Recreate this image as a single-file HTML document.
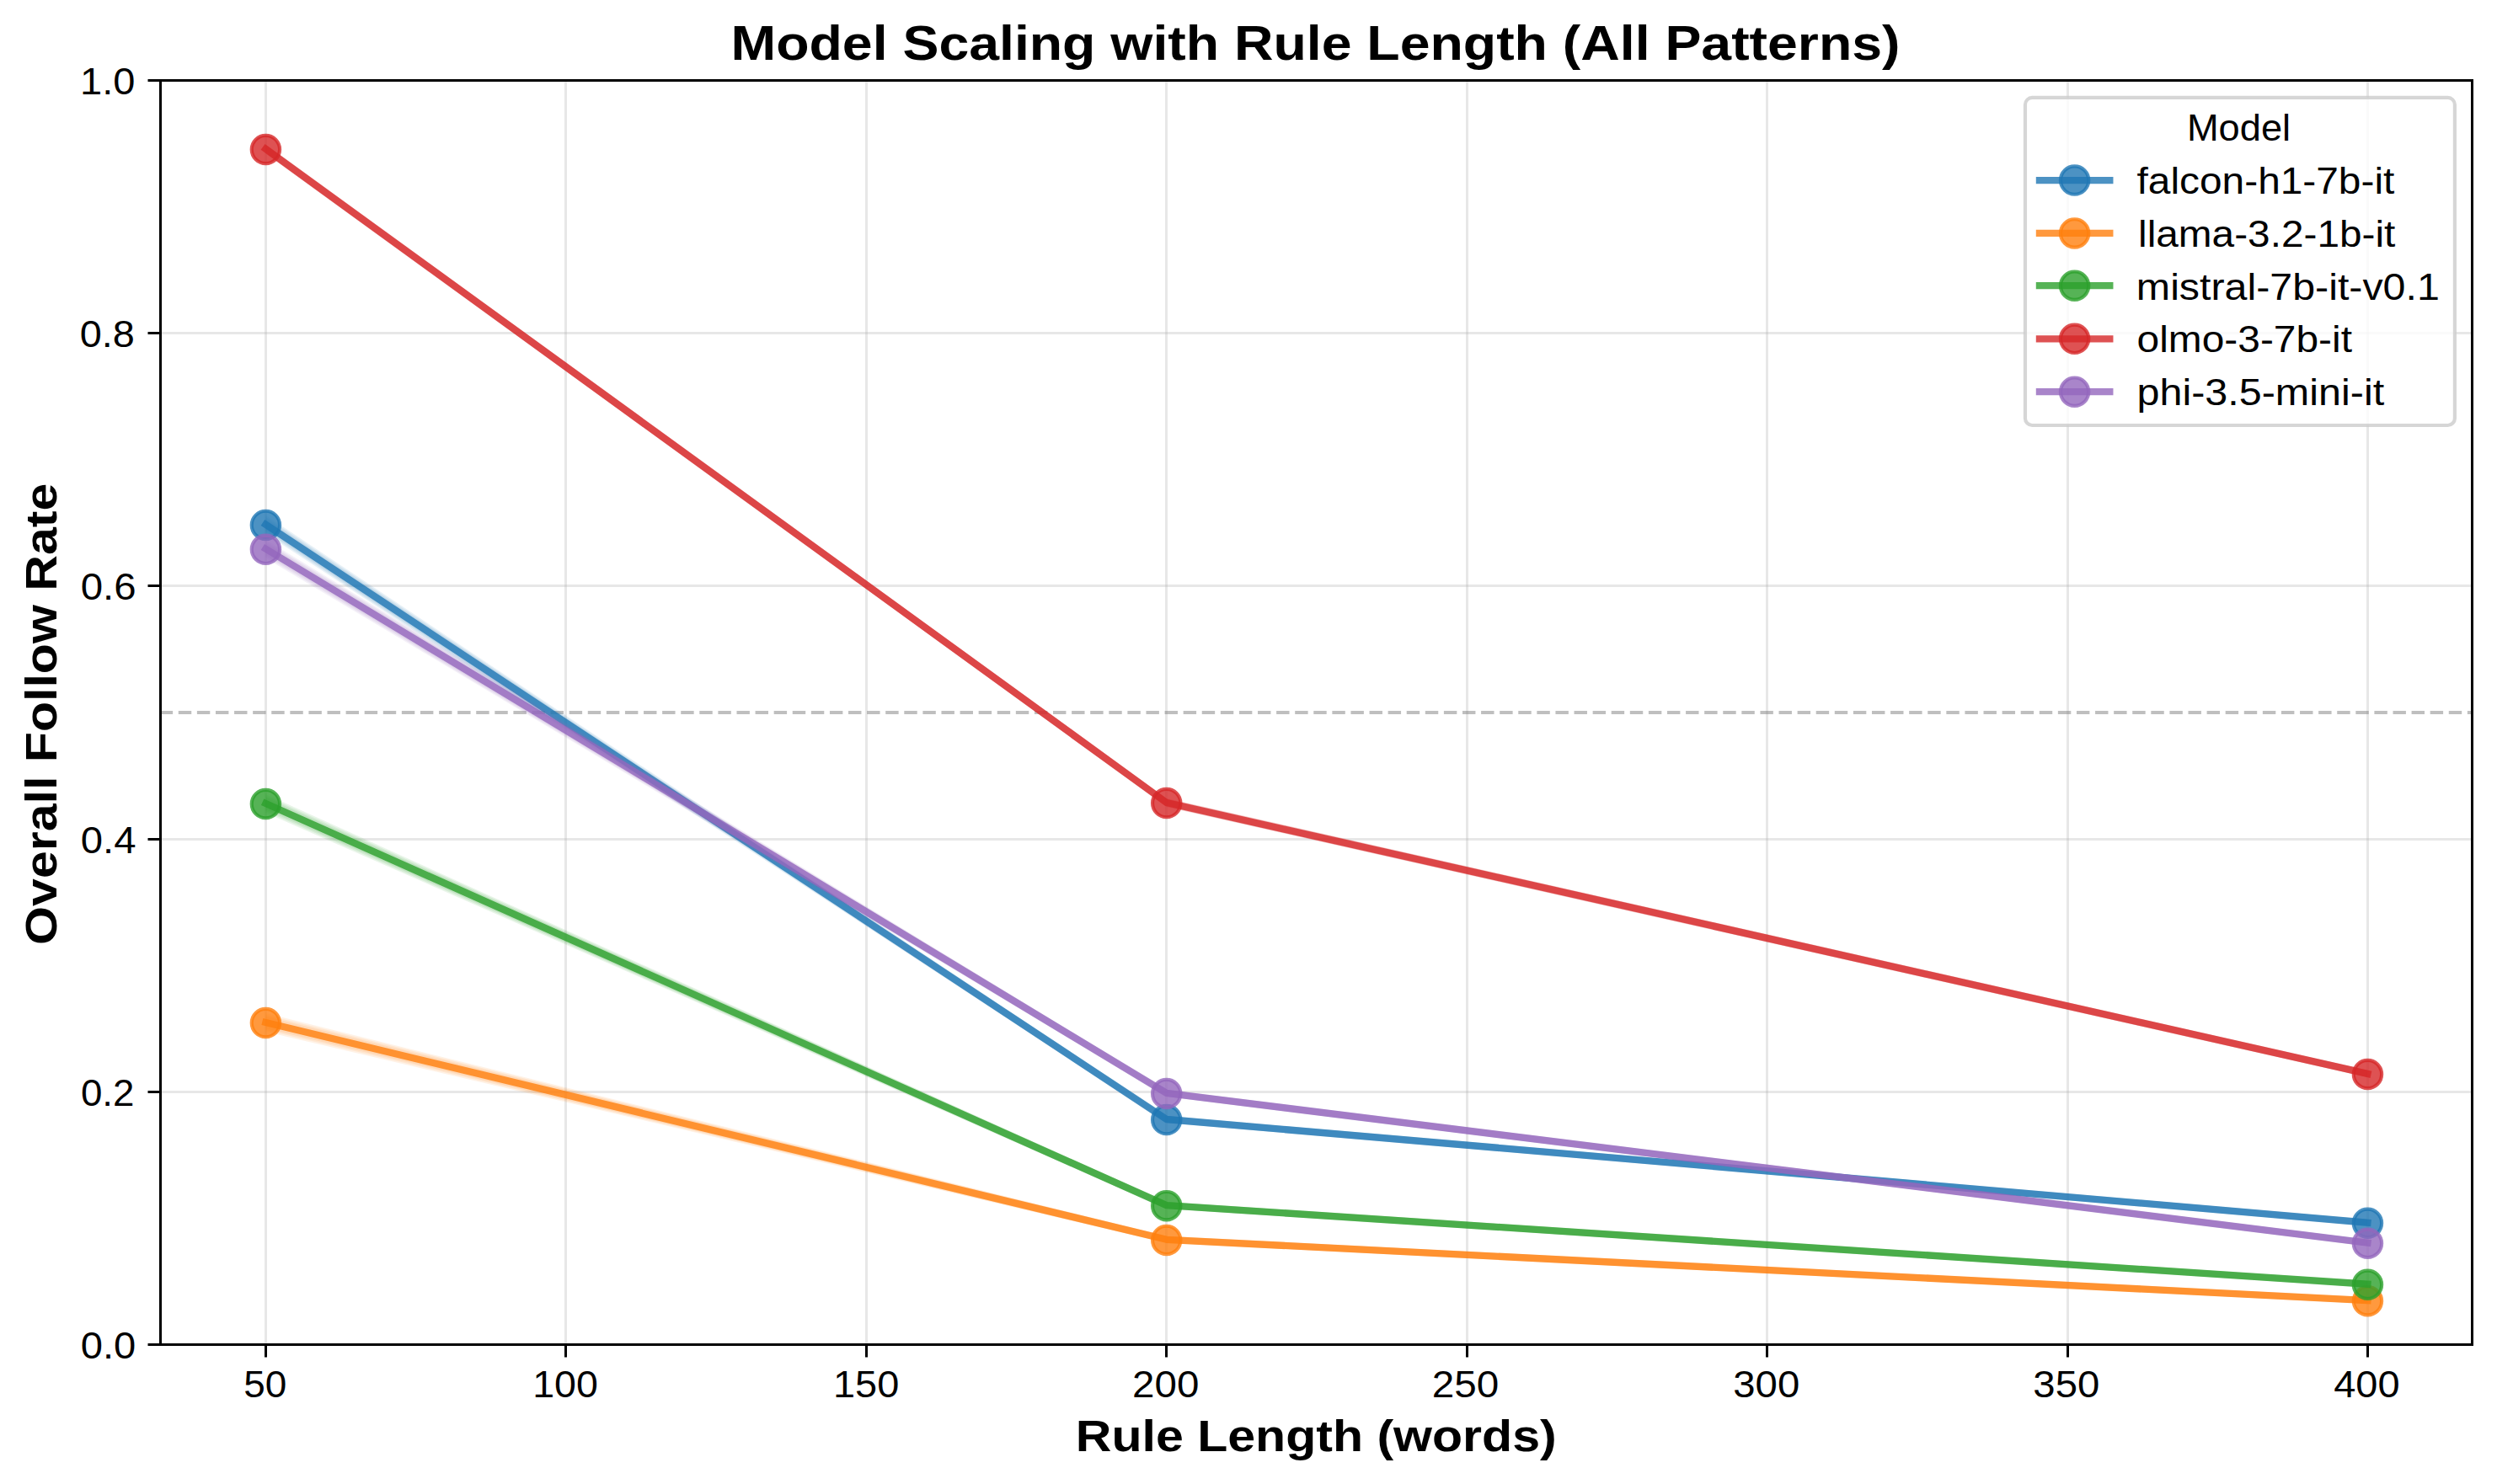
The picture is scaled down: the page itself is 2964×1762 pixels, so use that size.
<!DOCTYPE html><html><head><meta charset="utf-8"><style>html,body{margin:0;padding:0;background:#fff;}svg{display:block;} text{font-family:"Liberation Sans", sans-serif;}</style></head><body>
<svg width="2964" height="1762" viewBox="0 0 2964 1762">
<rect x="0" y="0" width="2964" height="1762" fill="#fff"/>
<line x1="315.5" y1="95.5" x2="315.5" y2="1596.5" stroke="#b0b0b0" stroke-opacity="0.3" stroke-width="3"/>
<line x1="671.5" y1="95.5" x2="671.5" y2="1596.5" stroke="#b0b0b0" stroke-opacity="0.3" stroke-width="3"/>
<line x1="1028.5" y1="95.5" x2="1028.5" y2="1596.5" stroke="#b0b0b0" stroke-opacity="0.3" stroke-width="3"/>
<line x1="1384.5" y1="95.5" x2="1384.5" y2="1596.5" stroke="#b0b0b0" stroke-opacity="0.3" stroke-width="3"/>
<line x1="1741.5" y1="95.5" x2="1741.5" y2="1596.5" stroke="#b0b0b0" stroke-opacity="0.3" stroke-width="3"/>
<line x1="2097.5" y1="95.5" x2="2097.5" y2="1596.5" stroke="#b0b0b0" stroke-opacity="0.3" stroke-width="3"/>
<line x1="2454.5" y1="95.5" x2="2454.5" y2="1596.5" stroke="#b0b0b0" stroke-opacity="0.3" stroke-width="3"/>
<line x1="2810.5" y1="95.5" x2="2810.5" y2="1596.5" stroke="#b0b0b0" stroke-opacity="0.3" stroke-width="3"/>
<line x1="190.5" y1="1596.5" x2="2934.5" y2="1596.5" stroke="#b0b0b0" stroke-opacity="0.3" stroke-width="3"/>
<line x1="190.5" y1="1296.5" x2="2934.5" y2="1296.5" stroke="#b0b0b0" stroke-opacity="0.3" stroke-width="3"/>
<line x1="190.5" y1="996.5" x2="2934.5" y2="996.5" stroke="#b0b0b0" stroke-opacity="0.3" stroke-width="3"/>
<line x1="190.5" y1="695.5" x2="2934.5" y2="695.5" stroke="#b0b0b0" stroke-opacity="0.3" stroke-width="3"/>
<line x1="190.5" y1="395.5" x2="2934.5" y2="395.5" stroke="#b0b0b0" stroke-opacity="0.3" stroke-width="3"/>
<line x1="190.5" y1="95.5" x2="2934.5" y2="95.5" stroke="#b0b0b0" stroke-opacity="0.3" stroke-width="3"/>
<line x1="190.5" y1="846" x2="2934.5" y2="846" stroke="#808080" stroke-opacity="0.5" stroke-width="4" stroke-dasharray="15.42 6.67" stroke-dashoffset="0.8"/>
<path d="M315.40,611.80 L1384.70,1324.80 L2810.45,1447.70 L2810.45,1455.70 L1384.70,1333.20 L315.40,633.80Z" fill="#1f77b4" fill-opacity="0.1"/>
<path d="M315.40,613.80 L1384.70,1325.00 L2810.45,1447.90 L2810.45,1455.50 L1384.70,1333.00 L315.40,631.80Z" fill="#1f77b4" fill-opacity="0.1"/>
<path d="M315.40,615.80 L1384.70,1325.20 L2810.45,1448.10 L2810.45,1455.30 L1384.70,1332.80 L315.40,629.80Z" fill="#1f77b4" fill-opacity="0.12"/>
<path d="M315.40,622.80 L1384.70,1329.00 L2810.45,1451.70" fill="none" stroke="#1f77b4" stroke-opacity="0.8" stroke-width="8.33" stroke-linejoin="round" stroke-linecap="square"/>
<circle cx="315.40" cy="623.40" r="16.67" fill="#1f77b4" fill-opacity="0.8" stroke="#1f77b4" stroke-opacity="0.8" stroke-width="4.17"/>
<circle cx="1384.70" cy="1329.60" r="16.67" fill="#1f77b4" fill-opacity="0.8" stroke="#1f77b4" stroke-opacity="0.8" stroke-width="4.17"/>
<circle cx="2810.45" cy="1452.30" r="16.67" fill="#1f77b4" fill-opacity="0.8" stroke="#1f77b4" stroke-opacity="0.8" stroke-width="4.17"/>
<path d="M315.40,1203.00 L1384.70,1467.60 L2810.45,1540.10 L2810.45,1548.10 L1384.70,1476.00 L315.40,1225.00Z" fill="#ff7f0e" fill-opacity="0.1"/>
<path d="M315.40,1205.00 L1384.70,1467.80 L2810.45,1540.30 L2810.45,1547.90 L1384.70,1475.80 L315.40,1223.00Z" fill="#ff7f0e" fill-opacity="0.1"/>
<path d="M315.40,1207.00 L1384.70,1468.00 L2810.45,1540.50 L2810.45,1547.70 L1384.70,1475.60 L315.40,1221.00Z" fill="#ff7f0e" fill-opacity="0.12"/>
<path d="M315.40,1214.00 L1384.70,1471.80 L2810.45,1544.10" fill="none" stroke="#ff7f0e" stroke-opacity="0.8" stroke-width="8.33" stroke-linejoin="round" stroke-linecap="square"/>
<circle cx="315.40" cy="1214.60" r="16.67" fill="#ff7f0e" fill-opacity="0.8" stroke="#ff7f0e" stroke-opacity="0.8" stroke-width="4.17"/>
<circle cx="1384.70" cy="1472.40" r="16.67" fill="#ff7f0e" fill-opacity="0.8" stroke="#ff7f0e" stroke-opacity="0.8" stroke-width="4.17"/>
<circle cx="2810.45" cy="1544.70" r="16.67" fill="#ff7f0e" fill-opacity="0.8" stroke="#ff7f0e" stroke-opacity="0.8" stroke-width="4.17"/>
<path d="M315.40,943.00 L1384.70,1426.90 L2810.45,1520.70 L2810.45,1528.70 L1384.70,1435.30 L315.40,965.00Z" fill="#2ca02c" fill-opacity="0.1"/>
<path d="M315.40,945.00 L1384.70,1427.10 L2810.45,1520.90 L2810.45,1528.50 L1384.70,1435.10 L315.40,963.00Z" fill="#2ca02c" fill-opacity="0.1"/>
<path d="M315.40,947.00 L1384.70,1427.30 L2810.45,1521.10 L2810.45,1528.30 L1384.70,1434.90 L315.40,961.00Z" fill="#2ca02c" fill-opacity="0.12"/>
<path d="M315.40,954.00 L1384.70,1431.10 L2810.45,1524.70" fill="none" stroke="#2ca02c" stroke-opacity="0.8" stroke-width="8.33" stroke-linejoin="round" stroke-linecap="square"/>
<circle cx="315.40" cy="954.60" r="16.67" fill="#2ca02c" fill-opacity="0.8" stroke="#2ca02c" stroke-opacity="0.8" stroke-width="4.17"/>
<circle cx="1384.70" cy="1431.70" r="16.67" fill="#2ca02c" fill-opacity="0.8" stroke="#2ca02c" stroke-opacity="0.8" stroke-width="4.17"/>
<circle cx="2810.45" cy="1525.30" r="16.67" fill="#2ca02c" fill-opacity="0.8" stroke="#2ca02c" stroke-opacity="0.8" stroke-width="4.17"/>
<path d="M315.40,171.30 L1384.70,947.80 L2810.45,1270.50 L2810.45,1279.30 L1384.70,958.20 L315.40,182.50Z" fill="#d62728" fill-opacity="0.1"/>
<path d="M315.40,171.50 L1384.70,948.00 L2810.45,1270.70 L2810.45,1279.10 L1384.70,958.00 L315.40,182.30Z" fill="#d62728" fill-opacity="0.1"/>
<path d="M315.40,171.70 L1384.70,948.20 L2810.45,1270.90 L2810.45,1278.90 L1384.70,957.80 L315.40,182.10Z" fill="#d62728" fill-opacity="0.12"/>
<path d="M315.40,176.90 L1384.70,953.00 L2810.45,1274.90" fill="none" stroke="#d62728" stroke-opacity="0.8" stroke-width="8.33" stroke-linejoin="round" stroke-linecap="square"/>
<circle cx="315.40" cy="177.50" r="16.67" fill="#d62728" fill-opacity="0.8" stroke="#d62728" stroke-opacity="0.8" stroke-width="4.17"/>
<circle cx="1384.70" cy="953.60" r="16.67" fill="#d62728" fill-opacity="0.8" stroke="#d62728" stroke-opacity="0.8" stroke-width="4.17"/>
<circle cx="2810.45" cy="1275.50" r="16.67" fill="#d62728" fill-opacity="0.8" stroke="#d62728" stroke-opacity="0.8" stroke-width="4.17"/>
<path d="M315.40,640.70 L1384.70,1293.70 L2810.45,1471.70 L2810.45,1479.70 L1384.70,1302.10 L315.40,662.70Z" fill="#9467bd" fill-opacity="0.1"/>
<path d="M315.40,642.70 L1384.70,1293.90 L2810.45,1471.90 L2810.45,1479.50 L1384.70,1301.90 L315.40,660.70Z" fill="#9467bd" fill-opacity="0.1"/>
<path d="M315.40,644.70 L1384.70,1294.10 L2810.45,1472.10 L2810.45,1479.30 L1384.70,1301.70 L315.40,658.70Z" fill="#9467bd" fill-opacity="0.12"/>
<path d="M315.40,651.70 L1384.70,1297.90 L2810.45,1475.70" fill="none" stroke="#9467bd" stroke-opacity="0.8" stroke-width="8.33" stroke-linejoin="round" stroke-linecap="square"/>
<circle cx="315.40" cy="652.30" r="16.67" fill="#9467bd" fill-opacity="0.8" stroke="#9467bd" stroke-opacity="0.8" stroke-width="4.17"/>
<circle cx="1384.70" cy="1298.50" r="16.67" fill="#9467bd" fill-opacity="0.8" stroke="#9467bd" stroke-opacity="0.8" stroke-width="4.17"/>
<circle cx="2810.45" cy="1476.30" r="16.67" fill="#9467bd" fill-opacity="0.8" stroke="#9467bd" stroke-opacity="0.8" stroke-width="4.17"/>
<path d="M190.5,95.5 H2934.5 V1596.5 H190.5 Z" fill="none" stroke="#000" stroke-width="3" stroke-linejoin="miter"/>
<line x1="315.5" y1="1596.5" x2="315.5" y2="1611.5" stroke="#000" stroke-width="3"/>
<line x1="671.5" y1="1596.5" x2="671.5" y2="1611.5" stroke="#000" stroke-width="3"/>
<line x1="1028.5" y1="1596.5" x2="1028.5" y2="1611.5" stroke="#000" stroke-width="3"/>
<line x1="1384.5" y1="1596.5" x2="1384.5" y2="1611.5" stroke="#000" stroke-width="3"/>
<line x1="1741.5" y1="1596.5" x2="1741.5" y2="1611.5" stroke="#000" stroke-width="3"/>
<line x1="2097.5" y1="1596.5" x2="2097.5" y2="1611.5" stroke="#000" stroke-width="3"/>
<line x1="2454.5" y1="1596.5" x2="2454.5" y2="1611.5" stroke="#000" stroke-width="3"/>
<line x1="2810.5" y1="1596.5" x2="2810.5" y2="1611.5" stroke="#000" stroke-width="3"/>
<line x1="175.5" y1="1596.5" x2="190.5" y2="1596.5" stroke="#000" stroke-width="3"/>
<line x1="175.5" y1="1296.5" x2="190.5" y2="1296.5" stroke="#000" stroke-width="3"/>
<line x1="175.5" y1="996.5" x2="190.5" y2="996.5" stroke="#000" stroke-width="3"/>
<line x1="175.5" y1="695.5" x2="190.5" y2="695.5" stroke="#000" stroke-width="3"/>
<line x1="175.5" y1="395.5" x2="190.5" y2="395.5" stroke="#000" stroke-width="3"/>
<line x1="175.5" y1="95.5" x2="190.5" y2="95.5" stroke="#000" stroke-width="3"/>
<text x="867.592" y="70.9" font-size="57" font-weight="bold" textLength="1387.917" lengthAdjust="spacingAndGlyphs">Model Scaling with Rule Length (All Patterns)</text>
<text x="1276.751" y="1722.8" font-size="51" font-weight="bold" textLength="570.956" lengthAdjust="spacingAndGlyphs">Rule Length (words)</text>
<g transform="rotate(-90)"><text x="-1121.929" y="67.0" font-size="51" font-weight="bold" textLength="548.241" lengthAdjust="spacingAndGlyphs">Overall Follow Rate</text></g>
<text x="289.178" y="1658.9" font-size="44" font-weight="normal" textLength="51.12" lengthAdjust="spacingAndGlyphs">50</text>
<text x="632.235" y="1658.9" font-size="44" font-weight="normal" textLength="77.657" lengthAdjust="spacingAndGlyphs">100</text>
<text x="988.938" y="1658.9" font-size="44" font-weight="normal" textLength="78.305" lengthAdjust="spacingAndGlyphs">150</text>
<text x="1344.082" y="1658.9" font-size="44" font-weight="normal" textLength="79.219" lengthAdjust="spacingAndGlyphs">200</text>
<text x="1699.694" y="1658.9" font-size="44" font-weight="normal" textLength="79.494" lengthAdjust="spacingAndGlyphs">250</text>
<text x="2057.327" y="1658.9" font-size="44" font-weight="normal" textLength="78.923" lengthAdjust="spacingAndGlyphs">300</text>
<text x="2413.376" y="1658.9" font-size="44" font-weight="normal" textLength="78.917" lengthAdjust="spacingAndGlyphs">350</text>
<text x="2770.149" y="1658.9" font-size="44" font-weight="normal" textLength="78.391" lengthAdjust="spacingAndGlyphs">400</text>
<text x="95.773" y="1613.05" font-size="44" font-weight="normal" textLength="65.532" lengthAdjust="spacingAndGlyphs">0.0</text>
<text x="95.904" y="1312.85" font-size="44" font-weight="normal" textLength="63.567" lengthAdjust="spacingAndGlyphs">0.2</text>
<text x="95.775" y="1012.65" font-size="44" font-weight="normal" textLength="65.686" lengthAdjust="spacingAndGlyphs">0.4</text>
<text x="95.764" y="712.45" font-size="44" font-weight="normal" textLength="65.888" lengthAdjust="spacingAndGlyphs">0.6</text>
<text x="94.771" y="412.25" font-size="44" font-weight="normal" textLength="65.094" lengthAdjust="spacingAndGlyphs">0.8</text>
<text x="95.058" y="112.05" font-size="44" font-weight="normal" textLength="65.348" lengthAdjust="spacingAndGlyphs">1.0</text>
<rect x="2403.95" y="115.95" width="509.95" height="389.05" rx="8.33" ry="8.33" fill="#fff" fill-opacity="0.8" stroke="#cccccc" stroke-opacity="0.8" stroke-width="4.17"/>
<text x="2595.955" y="166.8" font-size="44" font-weight="normal" textLength="123.164" lengthAdjust="spacingAndGlyphs">Model</text>
<line x1="2420.96" y1="214.1" x2="2504.3" y2="214.1" stroke="#1f77b4" stroke-opacity="0.8" stroke-width="8.33" stroke-linecap="square"/>
<circle cx="2462.6" cy="214.1" r="16.67" fill="#1f77b4" fill-opacity="0.8" stroke="#1f77b4" stroke-opacity="0.8" stroke-width="4.17"/>
<text x="2536.579" y="230.1" font-size="44" font-weight="normal" textLength="305.742" lengthAdjust="spacingAndGlyphs">falcon-h1-7b-it</text>
<line x1="2420.96" y1="276.9" x2="2504.3" y2="276.9" stroke="#ff7f0e" stroke-opacity="0.8" stroke-width="8.33" stroke-linecap="square"/>
<circle cx="2462.6" cy="276.9" r="16.67" fill="#ff7f0e" fill-opacity="0.8" stroke="#ff7f0e" stroke-opacity="0.8" stroke-width="4.17"/>
<text x="2538.069" y="292.9" font-size="44" font-weight="normal" textLength="305.225" lengthAdjust="spacingAndGlyphs">llama-3.2-1b-it</text>
<line x1="2420.96" y1="339.2" x2="2504.3" y2="339.2" stroke="#2ca02c" stroke-opacity="0.8" stroke-width="8.33" stroke-linecap="square"/>
<circle cx="2462.6" cy="339.2" r="16.67" fill="#2ca02c" fill-opacity="0.8" stroke="#2ca02c" stroke-opacity="0.8" stroke-width="4.17"/>
<text x="2535.86" y="355.5" font-size="44" font-weight="normal" textLength="359.939" lengthAdjust="spacingAndGlyphs">mistral-7b-it-v0.1</text>
<line x1="2420.96" y1="402.3" x2="2504.3" y2="402.3" stroke="#d62728" stroke-opacity="0.8" stroke-width="8.33" stroke-linecap="square"/>
<circle cx="2462.6" cy="402.3" r="16.67" fill="#d62728" fill-opacity="0.8" stroke="#d62728" stroke-opacity="0.8" stroke-width="4.17"/>
<text x="2536.586" y="418.4" font-size="44" font-weight="normal" textLength="255.393" lengthAdjust="spacingAndGlyphs">olmo-3-7b-it</text>
<line x1="2420.96" y1="465.2" x2="2504.3" y2="465.2" stroke="#9467bd" stroke-opacity="0.8" stroke-width="8.33" stroke-linecap="square"/>
<circle cx="2462.6" cy="465.2" r="16.67" fill="#9467bd" fill-opacity="0.8" stroke="#9467bd" stroke-opacity="0.8" stroke-width="4.17"/>
<text x="2536.471" y="481.2" font-size="44" font-weight="normal" textLength="293.65" lengthAdjust="spacingAndGlyphs">phi-3.5-mini-it</text>
</svg></body></html>
